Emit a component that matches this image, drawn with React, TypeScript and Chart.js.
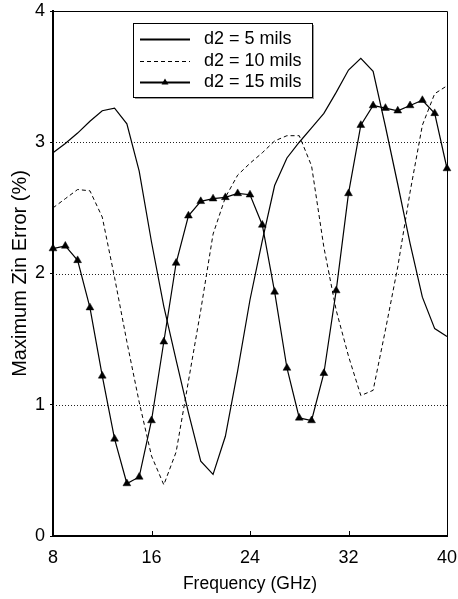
import React, { useEffect, useRef } from "react";
import { Chart, registerables } from "chart.js";

Chart.register(...registerables);

const frequencies = [8, 9, 10, 11, 12, 13, 14, 15, 16, 17, 18, 19, 20, 21, 22, 23, 24, 25, 26, 27, 28, 29, 30, 31, 32, 33, 34, 35, 36, 37, 38, 39, 40];
const d2_5 = [2.92, 2.99, 3.07, 3.16, 3.24, 3.26, 3.14, 2.78, 2.24, 1.75, 1.34, 0.94, 0.57, 0.47, 0.76, 1.26, 1.8, 2.25, 2.67, 2.88, 3.0, 3.11, 3.22, 3.38, 3.55, 3.64, 3.54, 3.12, 2.68, 2.23, 1.82, 1.58, 1.52];
const d2_10 = [2.5, 2.57, 2.64, 2.63, 2.43, 1.97, 1.48, 1.02, 0.61, 0.39, 0.64, 1.18, 1.72, 2.3, 2.58, 2.75, 2.84, 2.92, 3.01, 3.05, 3.05, 2.82, 2.2, 1.72, 1.37, 1.07, 1.11, 1.57, 2.05, 2.62, 3.13, 3.37, 3.43];
const d2_15 = [2.19, 2.21, 2.1, 1.74, 1.22, 0.74, 0.4, 0.45, 0.88, 1.48, 2.08, 2.44, 2.55, 2.57, 2.58, 2.61, 2.6, 2.37, 1.86, 1.28, 0.9, 0.88, 1.24, 1.87, 2.61, 3.13, 3.28, 3.26, 3.24, 3.28, 3.32, 3.22, 2.8];
const seriesLabels = ["d2 = 5 mils", "d2 = 10 mils", "d2 = 15 mils"];
const xTickValues = [8, 16, 24, 32, 40];
const yTickValues = [0, 1, 2, 3, 4];
const gridValues = [1, 2, 3];
const xTitle = "Frequency (GHz)";
const yTitle = "Maximum Zin Error (%)";

const FONT = "'Liberation Sans', Arial, Helvetica, sans-serif";

const toPoints = (vals: number[]) => frequencies.map((f, i) => ({ x: f, y: vals[i] }));

const framePlugin = {
  id: "framePlugin",
  beforeDatasetsDraw(chart: any) {
    const { ctx, chartArea, scales } = chart;
    ctx.save();
    ctx.strokeStyle = "#222";
    ctx.lineWidth = 1;
    ctx.setLineDash([1, 2]);
    gridValues.forEach((v) => {
      const y = Math.round(scales.y.getPixelForValue(v)) + 0.5;
      ctx.beginPath();
      ctx.moveTo(chartArea.left, y);
      ctx.lineTo(chartArea.right, y);
      ctx.stroke();
    });
    ctx.restore();
  },
  afterDraw(chart: any) {
    const { ctx, chartArea, scales } = chart;
    ctx.save();
    ctx.strokeStyle = "#000";
    ctx.lineWidth = 1;
    ctx.setLineDash([]);
    ctx.beginPath();
    ctx.moveTo(chartArea.left, Math.round(chartArea.top) + 0.5);
    ctx.lineTo(Math.round(chartArea.right) + 0.5, Math.round(chartArea.top) + 0.5);
    ctx.lineTo(Math.round(chartArea.right) + 0.5, chartArea.bottom);
    ctx.stroke();
    xTickValues.forEach((v) => {
      const x = Math.round(scales.x.getPixelForValue(v)) + 0.5;
      ctx.beginPath();
      ctx.moveTo(x, chartArea.bottom);
      ctx.lineTo(x, chartArea.bottom - 5);
      ctx.stroke();
    });

    const bx = chartArea.left + 80;
    const by = chartArea.top + 12;
    const bw = 179;
    const bh = 74;
    ctx.fillStyle = "#999";
    ctx.fillRect(bx + 2, by + 2, bw, bh);
    ctx.fillStyle = "#fff";
    ctx.fillRect(bx, by, bw, bh);
    ctx.strokeStyle = "#000";
    ctx.lineWidth = 1;
    ctx.strokeRect(Math.round(bx) + 0.5, Math.round(by) + 0.5, bw, bh);

    const rows = [15.5, 38, 59];
    chart.data.datasets.forEach((ds: any, i: number) => {
      const y = Math.round(by + rows[i]) + 0.5;
      ctx.save();
      ctx.strokeStyle = "#000";
      ctx.lineWidth = i === 1 ? 1 : 2;
      ctx.setLineDash(ds.borderDash || []);
      ctx.beginPath();
      ctx.moveTo(bx + 7, y);
      ctx.lineTo(bx + 57, y);
      ctx.stroke();
      ctx.restore();
      if (ds.pointRadius > 0) {
        ctx.save();
        ctx.fillStyle = "#000";
        ctx.beginPath();
        const cx = bx + 32;
        const r = 4;
        ctx.moveTo(cx, y - r);
        ctx.lineTo(cx + r * 0.866, y + r * 0.5);
        ctx.lineTo(cx - r * 0.866, y + r * 0.5);
        ctx.closePath();
        ctx.fill();
        ctx.restore();
      }
      ctx.fillStyle = "#000";
      ctx.font = `18px ${FONT}`;
      ctx.textBaseline = "middle";
      ctx.textAlign = "left";
      ctx.fillText(ds.label, bx + 71, y);
    });
    ctx.restore();
  },
};

export default function App() {
  const canvasRef = useRef<HTMLCanvasElement | null>(null);

  useEffect(() => {
    if (!canvasRef.current) return;
    const chart = new Chart(canvasRef.current, {
      type: "line",
      data: {
        datasets: [
          {
            label: seriesLabels[0],
            data: toPoints(d2_5),
            borderColor: "#000",
            borderWidth: 1.2,
            pointRadius: 0,
            tension: 0,
            fill: false,
            clip: false as any,
          },
          {
            label: seriesLabels[1],
            data: toPoints(d2_10),
            borderColor: "#000",
            borderWidth: 1,
            borderDash: [4, 3],
            pointRadius: 0,
            tension: 0,
            fill: false,
            clip: false as any,
          },
          {
            label: seriesLabels[2],
            data: toPoints(d2_15),
            borderColor: "#000",
            borderWidth: 1.2,
            pointStyle: "triangle",
            pointRadius: 4.5,
            pointBorderWidth: 0.5,
            pointBackgroundColor: "#000",
            pointBorderColor: "#000",
            tension: 0,
            fill: false,
            clip: false as any,
          },
        ],
      },
      options: {
        animation: false,
        responsive: true,
        maintainAspectRatio: false,
        layout: { padding: { top: 11, right: 11, left: 0, bottom: 0 } },
        plugins: { legend: { display: false }, tooltip: { enabled: false } },
        scales: {
          x: {
            type: "linear",
            min: 8,
            max: 40,
            afterBuildTicks: (scale: any) => {
              scale.ticks = xTickValues.map((v) => ({ value: v }));
            },
            afterFit: (scale: any) => {
              scale.height = 63;
              scale.paddingLeft = 0;
              scale.paddingRight = 0;
            },
            ticks: {
              font: { family: FONT, size: 18 },
              color: "#000",
              padding: 11,
              maxRotation: 0,
              autoSkip: false,
            },
            grid: { display: true, drawOnChartArea: false, drawTicks: false },
            border: { display: true, color: "#000", width: 2 },
            title: {
              display: true,
              text: xTitle,
              font: { family: FONT, size: 17.5 },
              color: "#000",
              padding: { top: 0, bottom: 4 },
            },
          },
          y: {
            type: "linear",
            min: 0,
            max: 4,
            afterBuildTicks: (scale: any) => {
              scale.ticks = yTickValues.map((v) => ({ value: v }));
            },
            afterFit: (scale: any) => {
              scale.width = 53;
              scale.paddingTop = 0;
              scale.paddingBottom = 0;
            },
            ticks: {
              font: { family: FONT, size: 18 },
              color: "#000",
              padding: 5,
            },
            grid: { display: true, drawOnChartArea: false, drawTicks: true, tickLength: 3, color: "#000" },
            border: { display: true, color: "#000", width: 2 },
            title: {
              display: true,
              text: yTitle,
              font: { family: FONT, size: 20 },
              color: "#000",
              padding: { top: 8, bottom: 0 },
            },
          },
        },
      },
      plugins: [framePlugin],
    });
    return () => chart.destroy();
  }, []);

  return (
    <div style={{ position: "fixed", left: 0, top: 0, width: 458, height: 599, background: "#fff" }}>
      <canvas ref={canvasRef} />
    </div>
  );
}
